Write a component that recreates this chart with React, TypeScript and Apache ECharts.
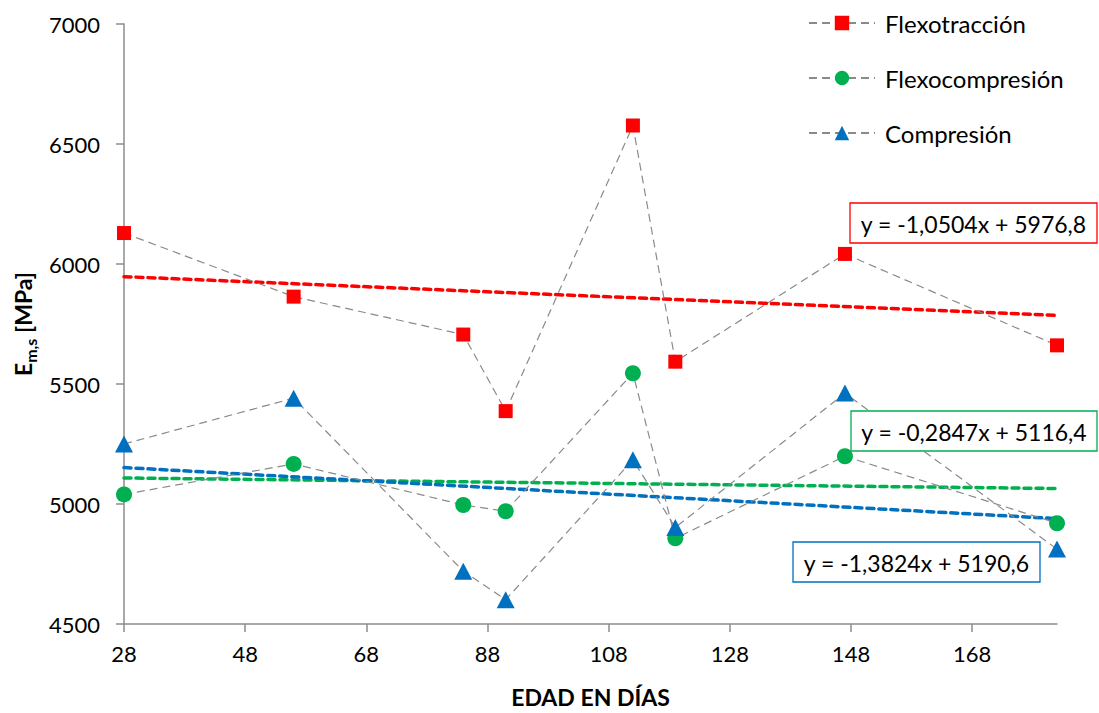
import React, { useEffect, useRef } from "react";
import * as echarts from "echarts";

const days = [28, 56, 84, 91, 112, 119, 147, 182];
const flexotraccion = [6129, 5864, 5706, 5387, 6577, 5593, 6042, 5661];
const flexocompresion = [5040, 5167, 4996, 4970, 5545, 4857, 5199, 4920];
const compresion = [5250, 5441, 4720, 4601, 5184, 4902, 5462, 4812];
const seriesNames = ["Flexotracción", "Flexocompresión", "Compresión"];
const xTicks = [28, 48, 68, 88, 108, 128, 148, 168];
const trendSlopes = [-1.0504, -0.2847, -1.3824];
const trendIntercepts = [5976.8, 5116.4, 5190.6];
const trendLabels = [
  "y = -1,0504x + 5976,8",
  "y = -0,2847x + 5116,4",
  "y = -1,3824x + 5190,6",
];

const FONT = "Lato, 'Open Sans', sans-serif";
const colors = ["#FF0000", "#00B050", "#0070C0"];
const symbols = ["rect", "circle", "triangle"];
const symbolSizes: any[] = [14, 16, [18, 17]];
const values = [flexotraccion, flexocompresion, compresion];

export default function App() {
  const ref = useRef<HTMLDivElement>(null);
  useEffect(() => {
    if (!ref.current) return;
    const chart = echarts.init(ref.current, undefined, { renderer: "svg" });

    const dataSeries = values.map((vals, i) => ({
      name: seriesNames[i],
      type: "line",
      data: days.map((d, j) => [d, vals[j]]),
      symbol: symbols[i],
      symbolSize: symbolSizes[i],
      itemStyle: { color: colors[i] },
      lineStyle: { color: "#8A8A8A", width: 1.2, type: [8, 5] },
      z: 3,
    }));

    const x0 = days[0];
    const x1 = days[days.length - 1];
    const trendSeries = trendSlopes.map((a, i) => ({
      name: "Lineal (" + seriesNames[i] + ")",
      type: "line",
      data: [
        [x0, a * x0 + trendIntercepts[i]],
        [x1, a * x1 + trendIntercepts[i]],
      ],
      symbol: "none",
      lineStyle: { color: colors[i], width: 3.5, type: [7, 5], cap: "round" },
      z: 2,
    }));

    const boxes = [
      { x: 850, y: 203, w: 247, h: 40 },
      { x: 851, y: 411, w: 246, h: 40 },
      { x: 793, y: 542, w: 247, h: 40 },
    ];
    const graphics: any[] = [];
    boxes.forEach((b, i) => {
      graphics.push({
        type: "rect",
        shape: { x: b.x, y: b.y, width: b.w, height: b.h },
        style: { fill: "#fff", stroke: colors[i], lineWidth: 1.3 },
        z: 10,
      });
      graphics.push({
        type: "text",
        x: b.x + b.w / 2,
        y: b.y + b.h / 2 + 1,
        style: {
          text: trendLabels[i],
          fill: "#000",
          font: "23px " + FONT,
          align: "center",
          verticalAlign: "middle",
        },
        z: 11,
      });
    });

    chart.setOption({
      animation: false,
      textStyle: { fontFamily: FONT },
      grid: { left: 124, right: 42, top: 24, bottom: 86 },
      legend: {
        data: seriesNames,
        orient: "vertical",
        left: 808,
        top: 11,
        itemWidth: 66,
        itemHeight: 18,
        itemGap: 31,
        padding: 0,
        textStyle: {
          fontSize: 24,
          color: "#000",
          fontFamily: FONT,
          padding: [0, 0, 0, 5],
        },
      },
      xAxis: {
        type: "value",
        min: 28,
        max: 182,
        name: "EDAD EN DÍAS",
        nameLocation: "middle",
        nameGap: 61,
        nameTextStyle: { fontSize: 23, fontWeight: "bold", color: "#000", fontFamily: FONT },
        axisLine: { show: true, lineStyle: { color: "#8C8C8C", width: 1.5 } },
        axisTick: { show: true, length: 8, customValues: xTicks, lineStyle: { color: "#8C8C8C", width: 1.5 } },
        axisLabel: { customValues: xTicks, fontSize: 22, color: "#000", margin: 18, fontFamily: FONT },
        splitLine: { show: false },
      },
      yAxis: {
        type: "value",
        min: 4500,
        max: 7000,
        interval: 500,
        name: "{a|E}{b|m,s}{a| [MPa]}",
        nameLocation: "middle",
        nameRotate: 90,
        nameGap: 86,
        nameTextStyle: {
          color: "#000",
          rich: {
            a: { fontSize: 23, fontWeight: "bold", fontFamily: FONT, lineHeight: 30, color: "#000" },
            b: { fontSize: 16, fontWeight: "bold", fontFamily: FONT, lineHeight: 8, verticalAlign: "bottom", color: "#000" },
          },
        },
        axisLine: { show: true, lineStyle: { color: "#8C8C8C", width: 1.5 } },
        axisTick: { show: true, length: 8, lineStyle: { color: "#8C8C8C", width: 1.5 } },
        axisLabel: {
          fontSize: 22,
          color: "#000",
          margin: 24,
          fontFamily: FONT,
          formatter: (v: number) => String(v),
        },
        splitLine: { show: false },
      },
      graphic: graphics,
      series: [...trendSeries, ...dataSeries],
    });
    return () => chart.dispose();
  }, []);
  return (
    <div
      ref={ref}
      style={{ position: "fixed", left: 0, top: 0, width: 1099, height: 713, background: "#fff" }}
    />
  );
}
